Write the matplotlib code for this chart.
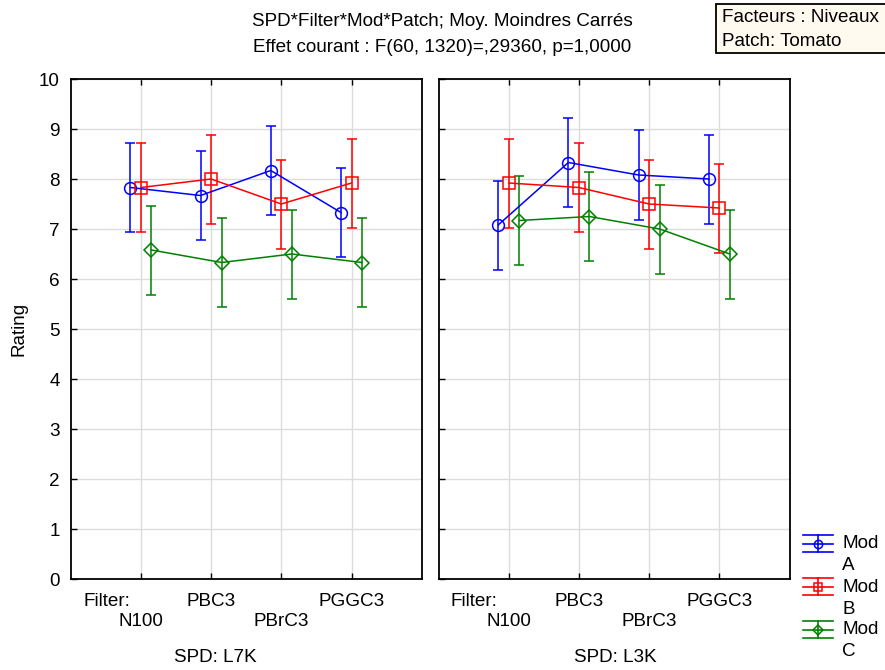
import matplotlib
matplotlib.use('Agg')
import numpy as np
from matplotlib import pyplot as plt
from matplotlib.lines import Line2D
from matplotlib.patches import Rectangle

plt.rcParams['font.family'] = ['Liberation Sans', 'DejaVu Sans']

filters = ['N100', 'PBC3', 'PBrC3', 'PGGC3']
spd_levels = ['L7K', 'L3K']
mods = ['Mod\nA', 'Mod\nB', 'Mod\nC']

# moyennes par SPD (L7K, L3K)
mod_a = {'L7K': [7.83, 7.67, 8.17, 7.33], 'L3K': [7.08, 8.33, 8.08, 8.00]}
mod_b = {'L7K': [7.83, 8.00, 7.50, 7.92], 'L3K': [7.92, 7.83, 7.50, 7.42]}
mod_c = {'L7K': [6.58, 6.33, 6.50, 6.33], 'L3K': [7.17, 7.25, 7.00, 6.50]}
err_a = {'L7K': [0.89, 0.89, 0.89, 0.89], 'L3K': [0.89, 0.89, 0.89, 0.89]}
err_b = {'L7K': [0.89, 0.89, 0.89, 0.89], 'L3K': [0.89, 0.89, 0.89, 0.89]}
err_c = {'L7K': [0.89, 0.89, 0.89, 0.89], 'L3K': [0.89, 0.89, 0.89, 0.89]}

W, H = 885, 670
FS = 13.6


def fx(px):
    return px / W


def fy(py):
    return 1 - py / H


fig = plt.figure(figsize=(8.85, 6.7), dpi=100)
ax1 = fig.add_axes([fx(70.7), fy(579), (421.7 - 70.7) / W, 500 / H])
ax2 = fig.add_axes([fx(438.5), fy(579), (789.5 - 438.5) / W, 500 / H])

series = [
    (mod_a, err_a, '#0000ff', 'o', 8.5, -0.15),
    (mod_b, err_b, '#ff0000', 's', 8, 0.0),
    (mod_c, err_c, '#008000', 'D', 7, 0.15),
]

x = np.arange(1, len(filters) + 1)
for ax, spd in zip([ax1, ax2], spd_levels):
    for vals, errs, col, mk, ms, off in series:
        ax.errorbar(x + off, vals[spd], yerr=errs[spd], color=col, lw=1.1,
                    elinewidth=1.1, capsize=3.5, capthick=1.1,
                    marker=mk, markersize=ms, markerfacecolor='none',
                    markeredgecolor=col, markeredgewidth=1.1, zorder=3)
    ax.set_xlim(0, 5)
    ax.set_ylim(0, 10)
    ax.set_yticks(range(0, 11))
    ax.set_xticks(x)
    ax.set_xticklabels([])
    # etiquettes en quinconce
    for i, f in enumerate(filters):
        row_y = 621.5 if i % 2 == 0 else 601
        ax.text(x[i], -(row_y - 579) / 500 * 10, f, ha='center', va='center',
                fontsize=FS)
    ax.grid(True, color='#dcdcdc', lw=1.0, zorder=0)
    ax.set_axisbelow(True)
    ax.tick_params(axis='both', direction='in', length=4, width=1, top=True)
    ax.tick_params(axis='y', pad=8, labelsize=FS)
    for s in ax.spines.values():
        s.set_linewidth(1.3)
    ax.text(12.5 / 351, -(601 - 579) / 500, 'Filter:', transform=ax.transAxes,
            ha='left', va='center', fontsize=FS)
    for t in ax.texts:
        t.set_clip_on(False)

ax1.set_ylabel('Rating', fontsize=FS, labelpad=8)
ax2.tick_params(axis='y', labelleft=False)

fig.text(fx(215), fy(657), 'SPD: L7K', ha='center', va='center', fontsize=FS)
fig.text(fx(615), fy(657), 'SPD: L3K', ha='center', va='center', fontsize=FS)

fig.text(0.5, fy(22), 'SPD*Filter*Mod*Patch; Moy. Moindres Carrés',
         ha='center', va='center', fontsize=FS)
fig.text(0.5, fy(47), 'Effet courant : F(60, 1320)=,29360, p=1,0000',
         ha='center', va='center', fontsize=FS)

# boite facteurs
fig.add_artist(Rectangle((fx(716), fy(53)), fx(W - 716 + 5), 49 / H,
                         transform=fig.transFigure, facecolor='#fffaf0',
                         edgecolor='black', lw=1.3))
fig.text(fx(722), fy(18), 'Facteurs : Niveaux', ha='left', va='center', fontsize=FS)
fig.text(fx(722), fy(41), 'Patch: Tomato', ha='left', va='center', fontsize=FS)

# legende
for i, (lab, (vals, errs, col, mk, ms, off)) in enumerate(zip(mods, series)):
    yc = 544 + 43 * i
    for yy in (yc - 9, yc, yc + 8):
        fig.add_artist(Line2D([fx(803), fx(833)], [fy(yy), fy(yy)],
                              transform=fig.transFigure, color=col, lw=1.2))
    fig.add_artist(Line2D([fx(818), fx(818)], [fy(yc - 9), fy(yc + 8)],
                          transform=fig.transFigure, color=col, lw=1.2))
    fig.add_artist(Line2D([fx(818)], [fy(yc)], transform=fig.transFigure,
                          marker=mk, markersize=ms * 0.7, markerfacecolor='none',
                          markeredgecolor=col, markeredgewidth=1.1))
    fig.text(fx(842), fy(yc), lab.split('\n')[0], ha='left', va='center', fontsize=FS)
    fig.text(fx(842), fy(yc + 22), lab.split('\n')[1], ha='left', va='center',
             fontsize=FS)

fig.savefig('out.png', dpi=100)
